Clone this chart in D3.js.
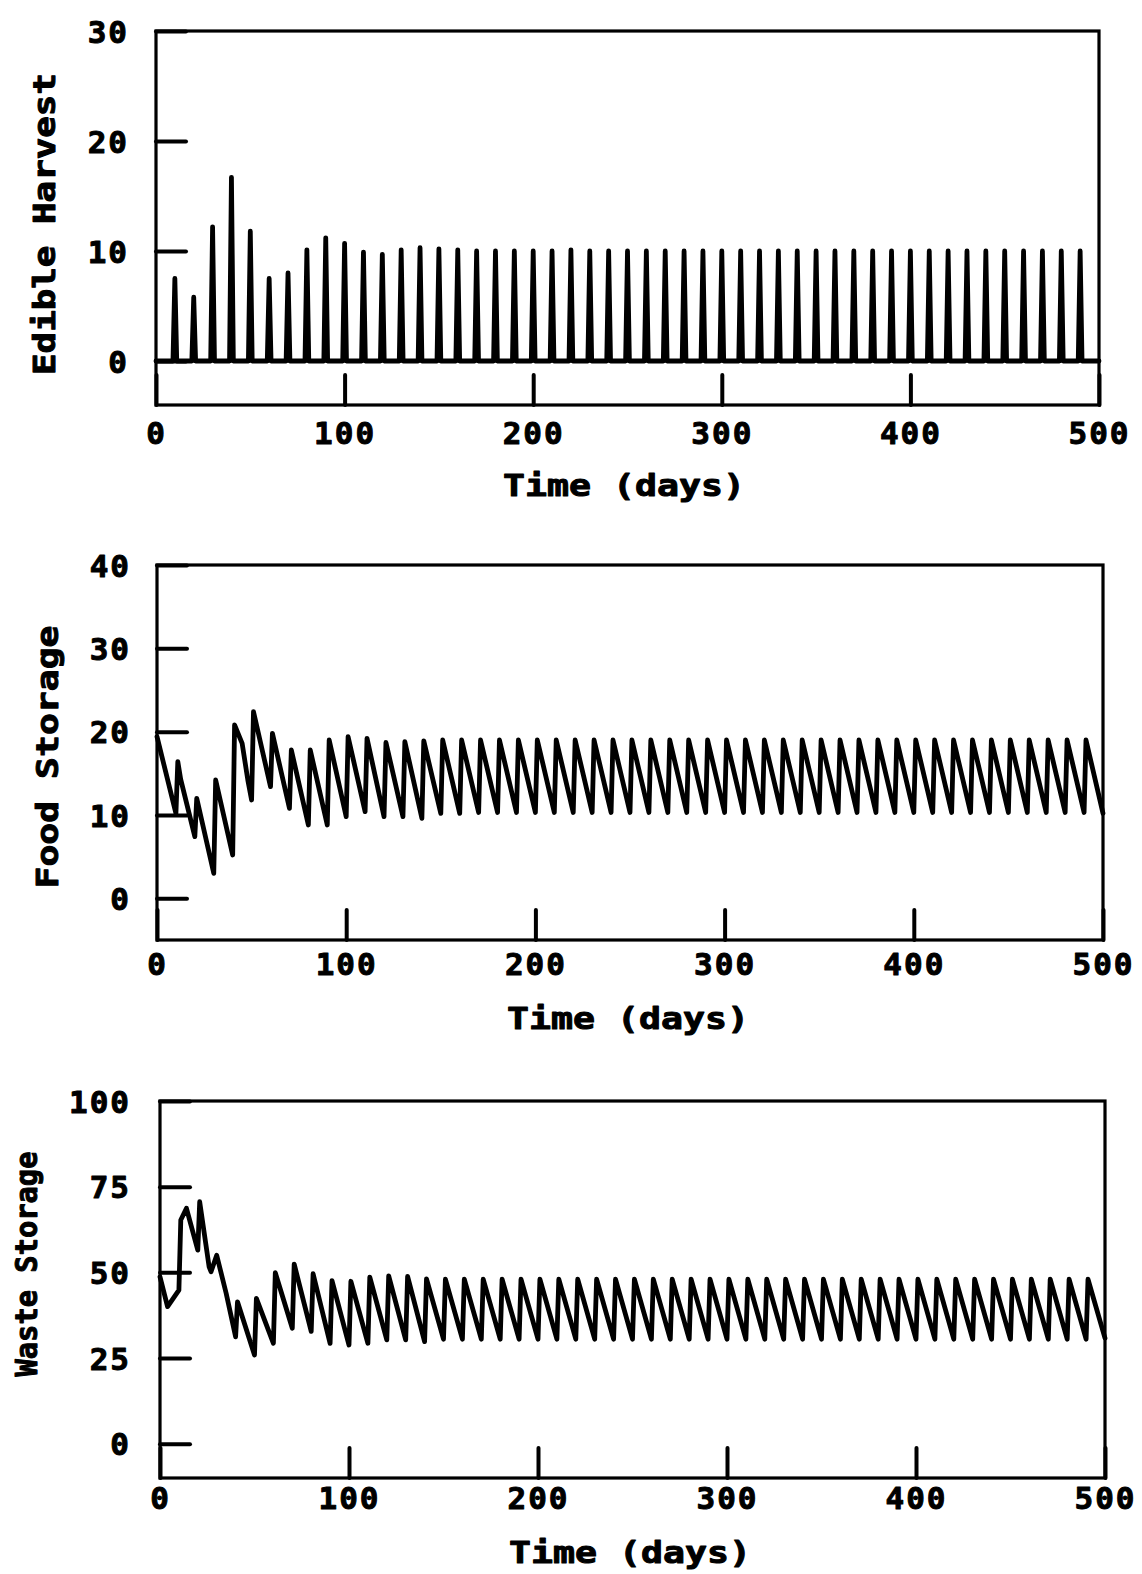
<!DOCTYPE html>
<html><head><meta charset="utf-8">
<script src="https://cdn.jsdelivr.net/npm/d3@7"></script>
<style>
body{margin:0;background:#fff}
svg{display:block}
text{font-family:"DejaVu Sans Mono",monospace;font-weight:bold;fill:#000;stroke:#000;stroke-width:1px;stroke-linejoin:round}
</style>
</head><body>
<svg id="chart" width="1142" height="1574"></svg>
<script>
// ---------------- data ----------------
const xTicks = [0, 100, 200, 300, 400, 500];
const xLabel = "Time (days)";

const harvestTicks = [0, 10, 20, 30];
const harvestLabel = "Edible Harvest";
const harvestDays = [10,20,30,40,50,60,70,80,90,100,110,120,130,140,150,160,170,180,190,200,210,220,230,240,250,260,270,280,290,300,310,320,330,340,350,360,370,380,390,400,410,420,430,440,450,460,470,480,490];
const harvestValues = [7.5,5.8,12.2,16.7,11.8,7.5,8.0,10.1,11.2,10.7,9.9,9.7,10.1,10.3,10.2,10.1,10.0,10.0,10.0,10.0,10.0,10.1,10.0,10.0,10.0,10.0,10.0,10.0,10.0,10.0,10.0,10.0,10.0,10.0,10.0,10.0,10.0,10.0,10.0,10.0,10.0,10.0,10.0,10.0,10.0,10.0,10.0,10.0,10.0];

const foodTicks = [0, 10, 20, 30, 40];
const foodLabel = "Food Storage";
const foodDays = [0,10,11,12.5,20,21,30,31,40,41,45,48,50,51,60,61,70,71,80,81,90,91,100,101,110,111,120,121,130,131,140,141,
  150,151,160,161,170,171,180,181,190,191,200,201,210,211,220,221,230,231,240,241,250,251,260,261,270,271,280,281,290,291,
  300,301,310,311,320,321,330,331,340,341,350,351,360,361,370,371,380,381,390,391,400,401,410,411,420,421,430,431,440,441,
  450,451,460,461,470,471,480,481,490,491,500];
const foodValues = [19.4,10.2,16.4,14.3,7.4,12.0,3.0,14.2,5.2,20.8,18.6,14.2,11.8,22.4,13.4,19.8,10.8,17.8,8.8,17.8,8.8,19.0,9.8,19.4,10.4,19.2,9.8,18.7,9.8,18.8,9.6,18.9,
  10.2,19.0,10.2,19.0,10.3,19.0,10.3,19.0,10.3,19.0,10.3,19.0,10.3,19.0,10.3,19.0,10.3,19.0,10.3,19.0,10.3,19.0,10.3,19.0,10.3,19.0,10.3,19.0,10.3,19.0,
  10.3,19.0,10.3,19.0,10.3,19.0,10.3,19.0,10.3,19.0,10.3,19.0,10.3,19.0,10.3,19.0,10.3,19.0,10.3,19.0,10.3,19.0,10.3,19.0,10.3,19.0,10.3,19.0,10.3,19.0,
  10.3,19.0,10.3,19.0,10.3,19.0,10.3,19.0,10.3,19.0,10.2];

const wasteTicks = [0, 25, 50, 75, 100];
const wasteLabel = "Waste Storage";
const wasteDays = [0,4,10,11,14,20,21,26,27,30,35,40,41,50,51,60,61,70,71,80,81,90,91,100,101,110,111,120,121,130,131,140,141,
  150,151,160,161,170,171,180,181,190,191,200,201,210,211,220,221,230,231,240,241,250,251,260,261,270,271,280,281,290,291,
  300,301,310,311,320,321,330,331,340,341,350,351,360,361,370,371,380,381,390,391,400,401,410,411,420,421,430,431,440,441,
  450,451,460,461,470,471,480,481,490,491,500];
const wasteValues = [48.7,40.0,44.8,65.3,68.7,56.5,70.6,51.6,50.2,55.0,43.9,31.2,41.4,25.9,42.4,29.3,49.9,33.7,52.4,32.8,49.6,29.3,47.6,28.8,47.4,29.3,48.6,30.3,49.0,30.3,48.8,29.8,48.1,
  30.5,48.0,30.5,48.0,30.5,48.0,30.5,48.0,30.5,48.0,30.5,48.0,30.5,48.0,30.5,48.0,30.5,48.0,30.5,48.0,30.5,48.0,30.5,48.0,30.5,48.0,30.5,48.0,30.5,48.0,
  30.5,48.0,30.5,48.0,30.5,48.0,30.5,48.0,30.5,48.0,30.5,48.0,30.5,48.0,30.5,48.0,30.5,48.0,30.5,48.0,30.5,48.0,30.5,48.0,30.5,48.0,30.5,48.0,30.5,48.0,
  30.5,48.0,30.5,48.0,30.5,48.0,30.5,48.0,30.5,48.0,30.8];

// ---------------- layout ----------------
const svg = d3.select("#chart");

function harvestSeries() {
  const pts = [[0, 0]];
  harvestDays.forEach((d, i) => { pts.push([d - 1, 0], [d, harvestValues[i]], [d + 1, 0]); });
  pts.push([500, 0]);
  return pts;
}

const panels = [
  { box: {l:156, r:1099, t:31, b:405}, yDomain: [-4, 30], yTicks: harvestTicks, ylab: harvestLabel,
    pts: harvestSeries(), xLabY: 444, titleY: 496, titleX: 624, yTitleX: 44, yTitleY: 224, yTitleLen: 302, yLabX: 129 },
  { box: {l:157, r:1103, t:565, b:940}, yDomain: [-5, 40], yTicks: foodTicks, ylab: foodLabel,
    pts: foodDays.map((d, i) => [d, foodValues[i]]), xLabY: 975, titleY: 1029, titleX: 628, yTitleX: 47, yTitleY: 757, yTitleLen: 263, yLabX: 131 },
  { box: {l:160, r:1105, t:1101, b:1478}, yDomain: [-10, 100], yTicks: wasteTicks, ylab: wasteLabel,
    pts: wasteDays.map((d, i) => [d, wasteValues[i]]), xLabY: 1509, titleY: 1563, titleX: 630, yTitleX: 26, yTitleY: 1264, yTitleLen: 225, yLabX: 131 }
];

panels.forEach(p => {
  const x = d3.scaleLinear().domain([0, 500]).range([p.box.l, p.box.r]);
  const y = d3.scaleLinear().domain(p.yDomain).range([p.box.b, p.box.t]);
  const g = svg.append("g");

  // frame
  g.append("rect").attr("x", p.box.l).attr("y", p.box.t)
    .attr("width", p.box.r - p.box.l).attr("height", p.box.b - p.box.t)
    .attr("fill", "none").attr("stroke", "#000").attr("stroke-width", 3.2);

  // y ticks (inside)
  const ya = g.append("g").attr("transform", `translate(${p.box.l},0)`)
    .call(d3.axisLeft(y).tickValues(p.yTicks).tickSize(-30).tickPadding(0).tickFormat(d3.format("d")));
  ya.select(".domain").remove();
  ya.selectAll("line").attr("stroke", "#000").attr("stroke-width", 4).attr("stroke-linecap", "round");
  ya.selectAll("text").attr("x", p.yLabX - p.box.l).attr("dy", "0.36em")
    .attr("font-size", 31).attr("letter-spacing", "2px").attr("font-family", null).attr("text-anchor", "end");

  // x ticks (inside, upward)
  const xa = g.append("g").attr("transform", `translate(0,${p.box.b})`)
    .call(d3.axisBottom(x).tickValues(xTicks).tickSize(-30).tickPadding(0).tickFormat(d3.format("d")));
  xa.select(".domain").remove();
  xa.selectAll("line").attr("stroke", "#000").attr("stroke-width", 4).attr("stroke-linecap", "round");
  xa.selectAll("text").attr("y", p.xLabY - p.box.b).attr("dy", 0)
    .attr("font-size", 31).attr("letter-spacing", "2px").attr("font-family", null);

  // data line
  g.append("path").datum(p.pts)
    .attr("d", d3.line().x(d => x(d[0])).y(d => y(d[1])))
    .attr("fill", "none").attr("stroke", "#000").attr("stroke-width", 4.8)
    .attr("stroke-linejoin", "round").attr("stroke-linecap", "round");

  // titles
  g.append("text").attr("x", p.titleX).attr("y", p.titleY).attr("text-anchor", "middle")
    .attr("font-size", 31).attr("textLength", 242).attr("lengthAdjust", "spacingAndGlyphs").text(xLabel);
  g.append("text").attr("transform", `translate(${p.yTitleX + 11},${p.yTitleY}) rotate(-90)`)
    .attr("text-anchor", "middle").attr("font-size", 31)
    .attr("textLength", p.yTitleLen).attr("lengthAdjust", "spacingAndGlyphs").text(p.ylab);
});
</script>
</body></html>
